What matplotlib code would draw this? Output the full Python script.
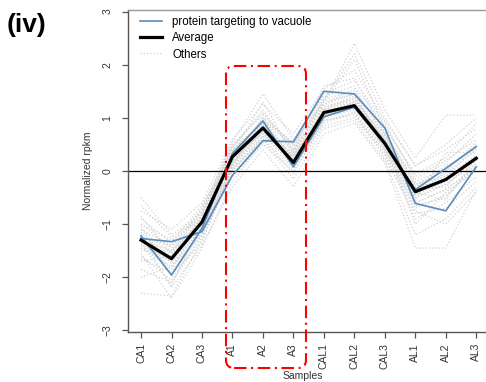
import numpy as np
import matplotlib
matplotlib.use("Agg")
import matplotlib.pyplot as plt
from matplotlib.patches import FancyBboxPatch
from matplotlib.transforms import IdentityTransform

plt.rcParams['font.family'] = ['Liberation Sans', 'DejaVu Sans']

samples = ['CA1', 'CA2', 'CA3', 'A1', 'A2', 'A3',
           'CAL1', 'CAL2', 'CAL3', 'AL1', 'AL2', 'AL3']
yticks = [-3, -2, -1, 0, 1, 2, 3]

# genes annotated "protein targeting to vacuole"
vacuole_a = [-1.22, -1.96, -1.08, 0.33, 0.94, 0.08, 1.02, 1.20, 0.50, -0.35, 0.05, 0.46]
vacuole_b = [-1.27, -1.33, -1.14, -0.08, 0.57, 0.55, 1.50, 1.45, 0.81, -0.61, -0.75, 0.08]

# cluster mean
average = [-1.30, -1.65, -0.96, 0.27, 0.81, 0.16, 1.10, 1.23, 0.52, -0.39, -0.16, 0.24]

# remaining genes of the cluster
others = [
    [-1.10, -1.55, -0.90, 0.30, 0.85, 0.25, 1.15, 1.30, 0.55, -0.35, -0.10, 0.30],
    [-1.45, -1.80, -1.05, 0.15, 0.70, 0.10, 1.05, 1.20, 0.45, -0.50, -0.25, 0.15],
    [-0.50, -1.20, -0.80, 0.45, 1.10, 0.40, 1.25, 1.45, 0.70, -0.20, 0.05, 0.45],
    [-2.30, -2.35, -1.30, 0.05, 0.60, -0.05, 0.95, 1.05, 0.35, -0.70, -0.45, 0.05],
    [-1.25, -1.40, -0.75, 0.55, 1.45, 0.60, 1.40, 1.60, 0.85, -0.10, 0.20, 0.60],
    [-1.60, -2.05, -1.20, -0.10, 0.50, 0.00, 0.85, 1.00, 0.30, -0.90, -0.60, -0.10],
    [-0.90, -1.35, -0.65, 0.35, 0.95, 0.45, 1.30, 2.40, 1.15, 0.25, 1.05, 1.05],
    [-1.35, -1.70, -1.00, 0.20, 0.75, 0.15, 1.10, 1.25, 0.50, -0.45, -0.20, 0.25],
    [-1.05, -1.95, -1.15, 0.10, 0.80, 0.30, 1.20, 1.40, 0.60, -0.30, -0.05, 0.40],
    [-1.70, -1.60, -0.85, 0.40, 0.90, 0.05, 1.00, 1.15, 0.40, -0.60, -0.35, 0.10],
    [-1.20, -2.20, -1.40, -0.30, 0.40, -0.30, 0.70, 0.90, 0.15, -1.45, -1.45, -0.35],
    [-0.75, -1.10, -0.60, 0.60, 1.25, 0.70, 1.55, 1.90, 0.95, 0.10, 0.40, 0.80],
    [-1.50, -1.50, -0.95, 0.25, 1.00, 0.20, 1.15, 1.35, 0.65, -0.40, -0.15, 0.20],
    [-1.15, -1.75, -1.10, 0.00, 0.65, 0.35, 1.35, 1.50, 0.75, -0.25, 0.00, 0.50],
    [-1.85, -2.10, -1.25, 0.15, 0.85, 0.10, 0.90, 1.10, 0.25, -0.80, -0.70, -0.20],
    [-1.00, -1.45, -0.70, 0.50, 1.05, 0.50, 1.45, 1.70, 0.90, -0.15, 0.15, 0.70],
    [-1.30, -1.85, -0.90, 0.30, 0.70, 0.25, 1.05, 1.20, 0.45, -0.55, 0.35, 0.35],
    [-1.40, -1.65, -1.05, 0.10, 0.90, 0.15, 1.20, 1.35, 0.55, -1.00, -0.40, 0.00],
    [-0.65, -1.25, -0.85, 0.40, 0.95, 0.55, 1.30, 2.10, 0.80, -0.05, 0.25, 0.90],
    [-1.55, -2.40, -1.45, -0.20, 0.55, -0.15, 0.80, 0.95, 0.20, -1.20, -0.90, -0.30],
    [-1.20, -1.60, -0.95, 0.35, 1.30, 0.30, 1.10, 1.25, 0.60, -0.35, -0.30, 0.30],
    [-1.00, -1.30, -0.90, 0.20, 0.80, 0.40, 1.60, 1.75, 0.70, -0.45, 0.00, 0.55],
    [-1.65, -1.90, -1.10, 0.05, 0.75, 0.20, 1.00, 1.30, 0.40, -0.65, -0.50, 0.15],
    [-1.30, -1.50, -0.80, 0.45, 1.15, 0.35, 1.25, 1.55, 0.65, -0.25, -0.10, 0.45],
    [-2.00, -1.80, -1.20, 0.00, 0.60, 0.05, 0.95, 1.10, 0.35, -0.75, -1.00, -0.40],
    [-0.85, -1.55, -0.70, 0.25, 1.00, 0.50, 1.35, 2.20, 1.00, 0.10, 0.50, 1.00],
    [-1.35, -2.15, -1.00, 0.15, 0.95, 0.25, 1.15, 1.40, 0.50, -0.50, -0.25, 0.20],
    [-1.10, -1.40, -1.00, 0.30, 0.85, 0.10, 1.05, 1.20, 0.55, -0.40, -0.55, 0.25],
    [-1.45, -1.70, -0.85, 0.40, 0.75, 0.30, 1.30, 1.45, 0.45, -0.30, 0.10, 0.35],
    [-1.25, -1.95, -1.35, 0.10, 0.65, 0.15, 1.10, 1.30, 0.60, -0.60, -0.35, 0.05],
]

BLUE = '#5a8cbc'
GREY = '#d2d2d2'
DOTS = (0, (1, 1.6))

x = np.arange(1, len(samples) + 1)

fig = plt.figure(figsize=(4.86, 3.82), dpi=100)
# axes run slightly past the right edge of the figure
ax = fig.add_axes([0.2626, 0.1309, 0.745, 0.8429])

for row in others:
    ax.plot(x, row, color=GREY, lw=0.9, ls=DOTS, zorder=1)
ax.plot(x, vacuole_a, color=BLUE, lw=1.2, zorder=3)
ax.plot(x, vacuole_b, color=BLUE, lw=1.2, zorder=3)
ax.plot(x, average, color='black', lw=2.3, zorder=4)
ax.axhline(0, color='black', lw=0.9, zorder=2)

ax.set_xlim(0.56, 12.44)
ax.set_ylim(-3.03, 3.03)
ax.set_xticks(x)
ax.set_xticklabels(samples, rotation=90, fontsize=7.5, color='#333333')
ax.set_yticks(yticks)
ax.set_yticklabels([str(v).replace('-', '\u2212') for v in yticks],
                   rotation=90, fontsize=7.5, color='#333333', va='center')
ax.tick_params(axis='x', length=4, width=0.9, color='#555555', pad=4)
ax.tick_params(axis='y', length=4, width=0.9, color='#555555', pad=7)
for side in ['left', 'bottom', 'top', 'right']:
    ax.spines[side].set_color('#999999')
    ax.spines[side].set_linewidth(1.0)
ax.spines['left'].set_color('#555555')
ax.spines['bottom'].set_color('#555555')

legend_handles = [
    plt.Line2D([], [], color=BLUE, lw=1.2),
    plt.Line2D([], [], color='black', lw=2.3),
    plt.Line2D([], [], color=GREY, lw=0.9, ls=DOTS),
]
ax.legend(legend_handles, ['protein targeting to vacuole', 'Average', 'Others'],
          loc='upper left', bbox_to_anchor=(0.034, 0.98), frameon=False,
          fontsize=8.3, handlelength=1.9, handletextpad=0.9,
          labelspacing=0.35, borderpad=0, borderaxespad=0)

fig.text(88 / 486, 1 - 171 / 382, 'Normalized rpkm', rotation=90,
         ha='center', va='center', fontsize=7.5, color='#333333')
fig.text(303 / 486, 1 - 376 / 382, 'Samples',
         ha='center', va='center', fontsize=7.5, color='#333333')
fig.text(7 / 486, 1 - 25 / 382, '(iv)', ha='left', va='center',
         fontsize=19, fontweight='bold')

# red dash-dot box around the A1-A3 samples (pixel coordinates)
box = FancyBboxPatch((226, 382 - 368), 80, 302,
                     boxstyle='round,pad=0,rounding_size=8',
                     transform=IdentityTransform(), fill=False,
                     edgecolor='red', lw=1.5, ls=(0, (6, 2.2, 1, 2.2)),
                     clip_on=False, zorder=10)
fig.patches.append(box)

fig.savefig('out.png', dpi=100)
